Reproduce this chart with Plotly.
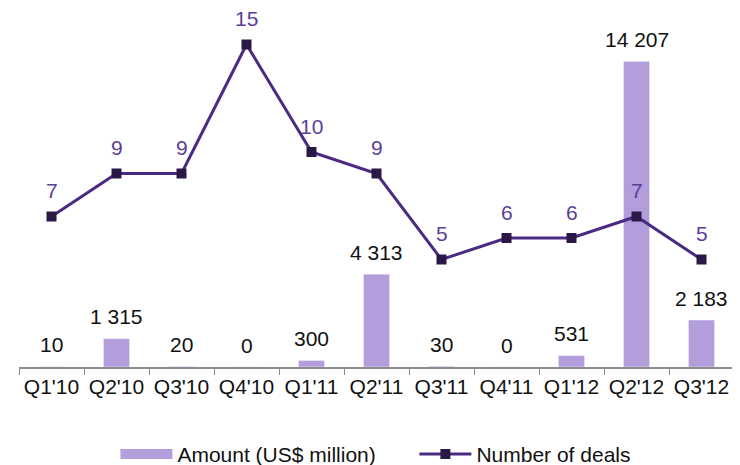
import plotly.graph_objects as go

quarters = ["Q1'10", "Q2'10", "Q3'10", "Q4'10", "Q1'11", "Q2'11",
            "Q3'11", "Q4'11", "Q1'12", "Q2'12", "Q3'12"]
amount = [10, 1315, 20, 0, 300, 4313, 30, 0, 531, 14207, 2183]
deals = [7, 9, 9, 15, 10, 9, 5, 6, 6, 7, 5]

bar_color = "#b39ddb"
line_color = "#4b2a82"
marker_color = "#2a1846"
label_purple = "#5b3e9a"
font = "Liberation Sans, Arial, sans-serif"

fig = go.Figure()

# barres : montant
fig.add_trace(go.Bar(
    x=quarters, y=amount, name="Amount (US$ million)",
    marker_color=bar_color, width=0.4, yaxis="y", showlegend=False,
))

# entrée de légende seule, pour avoir un rectangle large comme dans Excel
fig.add_trace(go.Scatter(
    x=[None], y=[None], name="Amount (US$ million)", mode="lines",
    line=dict(color=bar_color, width=11),
))

# ligne : nombre de deals
fig.add_trace(go.Scatter(
    x=quarters, y=deals, name="Number of deals", yaxis="y2",
    mode="lines+markers",
    line=dict(color=line_color, width=3),
    marker=dict(symbol="square", size=10, color=marker_color),
))

annotations = []
for q, v in zip(quarters, amount):
    annotations.append(dict(
        x=q, y=v, xref="x", yref="y", text=f"{v:,}".replace(",", " "),
        showarrow=False, yanchor="middle", yshift=22,
        font=dict(size=21, color="#111111", family=font),
    ))
for q, v in zip(quarters, deals):
    annotations.append(dict(
        x=q, y=v, xref="x", yref="y2", text=str(v),
        showarrow=False, yanchor="middle", yshift=26,
        font=dict(size=21, color=label_purple, family=font),
    ))

# la page ajoute une marge de 8 px : figure un peu plus petite que la fenêtre
fig.update_layout(
    width=732, height=457,
    margin=dict(l=11, r=6, t=15, b=98, autoexpand=False),
    plot_bgcolor="white", paper_bgcolor="white",
    font=dict(family=font, size=21, color="#111111"),
    showlegend=True,
    legend=dict(orientation="h", x=0.553, xanchor="center", y=-0.254, yanchor="middle",
                font=dict(size=21), itemwidth=52, traceorder="normal",
                entrywidth=232),
    xaxis=dict(showline=True, linecolor="#8c8c8c", linewidth=1.5,
               range=[-0.5, 10.5], tickangle=0, automargin=False,
               ticks="outside", tickson="boundaries", ticklen=6, tickcolor="#8c8c8c",
               showgrid=False, tickfont=dict(size=21)),
    yaxis=dict(range=[0, 16000], visible=False, showgrid=False),
    yaxis2=dict(range=[0, 16], overlaying="y", visible=False, showgrid=False),
    annotations=annotations,
    bargap=0.6,
)

fig.write_html("out.html")
